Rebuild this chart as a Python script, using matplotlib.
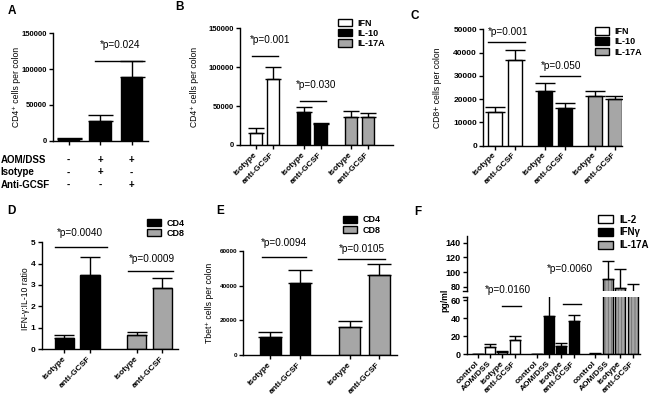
import numpy as np
import matplotlib.pyplot as plt
from matplotlib.patches import Patch
from matplotlib.transforms import blended_transform_factory

plt.rcParams['font.family'] = ['Liberation Sans', 'DejaVu Sans']
plt.rcParams['font.weight'] = 'bold'
plt.rcParams['hatch.linewidth'] = 0.6

# ---------------- data ----------------
# A: total CD4+ cells
a_vals = [2500, 28000, 89500]
a_sem = [800, 8000, 22000]
a_rows = ['AOM/DSS', 'Isotype', 'Anti-GCSF']
a_signs = [['-', '+', '+'], ['-', '+', '-'], ['-', '-', '+']]

pair_labels = ['isotype', 'anti-GCSF']
cyto3 = ['IFN', 'IL-10', 'IL-17A']

# B: CD4+ cells per colon by cytokine (isotype, anti-GCSF)
b_vals = [[15900, 84900], [42400, 26600], [35600, 36400]]
b_sem = [[5500, 15800], [6000, 2100], [8500, 4300]]

# C: CD8+ cells per colon by cytokine
c_vals = [[14500, 36800], [23600, 16000], [21500, 20200]]
c_sem = [[2200, 4500], [3200, 2200], [2100, 1300]]

# D: IFN-g:IL-10 ratio
cells = ['CD4', 'CD8']
d_vals = [[0.5, 3.49], [0.67, 2.84]]
d_sem = [[0.17, 0.83], [0.12, 0.49]]

# E: Tbet+ cells
e_vals = [[10200, 41350], [16350, 46150]]
e_sem = [[2900, 7650], [3450, 6150]]

# F: cytokines pg/ml
f_groups = ['IL-2', 'IFNγ', 'IL-17A']
f_labels = ['control', 'AOM/DSS', 'isotype', 'anti-GCSF']
f_vals = [[0.3, 8.4, 2.9, 15.8], [0.2, 42.7, 9.2, 36.8], [0.8, 90, 78.6, 72]]
f_sem = [[0.2, 3.0, 0.7, 4.8], [0.1, 23, 2.9, 6.6], [0.2, 25, 25, 12]]

fills3 = ['white', 'black', '#a6a6a6']
fills2 = ['black', '#a6a6a6']

# ---------------- helpers ----------------
W, H = 650, 399
fig = plt.figure(figsize=(W / 100, H / 100), dpi=100)


def px_axes(l, t, r, b, tsize=5.5):
    ax = fig.add_axes([l / W, 1 - b / H, (r - l) / W, (b - t) / H])
    ax.spines[['top', 'right']].set_visible(False)
    for s in ax.spines.values():
        s.set_linewidth(1)
    ax.tick_params(labelsize=tsize, width=1, length=3, pad=1.5)
    return ax


def draw_bars(ax, x, vals, sem, fc, w, cap, hatch=None):
    if hatch:
        ax.bar(x, vals, w, color=fc, edgecolor='#6e6e6e', lw=0, hatch=hatch, zorder=2)
        ax.bar(x, vals, w, fill=False, edgecolor='k', lw=1, zorder=2)
    else:
        ax.bar(x, vals, w, color=fc, edgecolor='k', lw=1, zorder=2)
    ax.errorbar(x, vals, yerr=[np.zeros(len(vals)), sem], fmt='none', ecolor='k',
                elinewidth=1, capsize=cap, capthick=1, zorder=3)


def sig(ax, x0, x1, y, text, tx, ty):
    ax.plot([x0, x1], [y, y], color='k', lw=1, clip_on=False)
    ax.text(tx, ty, text, ha='center', va='center', fontsize=7.2,
            weight='normal', clip_on=False, zorder=10)


def legend(labels, colors, left, top, fs=6.5, spacing=0.15):
    handles = [Patch(facecolor=c, edgecolor='k', lw=1) for c in colors]
    fig.legend(handles, labels, loc='upper left', bbox_to_anchor=(left / W, 1 - top / H),
               frameon=False, fontsize=fs, handlelength=1.55, handleheight=0.9,
               handletextpad=0.6, labelspacing=spacing, borderpad=0, borderaxespad=0)


def rot_labels(ax, x, labels, fs=6):
    ax.set_xticks(x)
    ax.set_xticklabels(labels, rotation=45, ha='right', va='center',
                       rotation_mode='anchor', fontsize=fs)
    ax.tick_params(axis='x', pad=3)


def panel(letter, x, y):
    fig.text(x / W, 1 - y / H, letter, fontsize=8.5, ha='center', va='center')


# ---------------- A ----------------
ax = px_axes(53.3, 33.3, 148.3, 140.7)
xa = np.arange(len(a_vals))
draw_bars(ax, xa, a_vals, a_sem, 'k', 0.68, 9)
ax.set_xlim(-0.49, 2.53)
ax.set_ylim(0, 150000)
ax.set_yticks([0, 50000, 100000, 150000])
ax.set_xticks(xa)
ax.set_xticklabels([])
ax.set_ylabel('CD4⁺ cells per colon', fontsize=6.2)
ax.yaxis.set_label_coords(-0.345, 0.5)
sig(ax, 0.85, 2.32, 111800, '*p=0.024', 1.65, 133700)
tr = blended_transform_factory(ax.transData, fig.transFigure)
for r, (lab, row) in enumerate(zip(a_rows, a_signs)):
    y = 1 - (160 + r * 12.5) / H
    fig.text(0.5 / W, y, lab, fontsize=7, va='center')
    for xi, s in zip(xa, row):
        ax.text(xi, y, s, transform=tr, fontsize=7, ha='center', va='center')
panel('A', 11.5, 11.5)

# ---------------- B ----------------
ax = px_axes(240, 28.3, 393, 145)
xb = []
for g in range(3):
    xg = g * 2.8 + np.arange(2)
    xb.extend(xg)
    draw_bars(ax, xg, b_vals[g], b_sem[g], fills3[g], 0.72, 6)
ax.set_xlim(-0.94, 8.06)
ax.set_ylim(0, 150000)
ax.set_yticks([0, 50000, 100000, 150000])
rot_labels(ax, xb, pair_labels * 3)
ax.set_ylabel('CD4⁺ cells per colon', fontsize=6.2)
ax.yaxis.set_label_coords(-0.27, 0.5)
sig(ax, -0.25, 1.31, 114400, '*p=0.001', 0.82, 135000)
sig(ax, 2.6, 4.13, 57000, '*p=0.030', 3.53, 77100)
legend(cyto3, fills3, 338, 18.5)
panel('B', 180, 7)

# ---------------- C ----------------
ax = px_axes(483.3, 29.3, 621.7, 145.7, tsize=6)
xc = []
for g in range(3):
    xg = g * 2.5 + np.arange(2)
    xc.extend(xg)
    draw_bars(ax, xg, c_vals[g], c_sem[g], fills3[g], 0.67, 7)
ax.set_xlim(-0.585, 6.34)
ax.set_ylim(0, 50000)
ax.set_yticks(np.arange(0, 50001, 10000))
rot_labels(ax, xc, pair_labels * 3)
ax.set_ylabel('CD8+ cells per colon', fontsize=6.2)
ax.yaxis.set_label_coords(-0.30, 0.5)
sig(ax, -0.33, 1.5, 44700, '*p=0.001', 0.65, 49000)
sig(ax, 2.25, 4.25, 29950, '*p=0.050', 3.33, 34200)
legend(cyto3, fills3, 595, 27)
panel('C', 415, 16)

# ---------------- D ----------------
ax = px_axes(41.7, 242.3, 178, 349, tsize=6)
xd = []
for g in range(2):
    xg = g * 2.84 + np.arange(2)
    xd.extend(xg)
    draw_bars(ax, xg, d_vals[g], d_sem[g], fills2[g], 0.75, 7)
ax.set_xlim(-0.89, 4.45)
ax.set_ylim(0, 5)
ax.set_yticks(range(6))
rot_labels(ax, xd, pair_labels * 2)
ax.set_ylabel('IFN-γ:IL-10 ratio', fontsize=6.2)
ax.yaxis.set_label_coords(-0.085, 0.47)
sig(ax, -0.37, 1.67, 4.76, '*p=0.0040', 0.61, 5.43)
sig(ax, 2.49, 4.24, 3.65, '*p=0.0009', 3.43, 4.2)
legend(cells, fills2, 147, 218.5)
panel('D', 11, 211)

# ---------------- E ----------------
ax = px_axes(243.3, 251, 396.7, 355, tsize=4.6)
xe = []
for g in range(2):
    xg = g * 2.67 + np.arange(2)
    xe.extend(xg)
    draw_bars(ax, xg, e_vals[g], e_sem[g], fills2[g], 0.7, 8.5)
ax.set_xlim(-0.91, 4.26)
ax.set_ylim(0, 60000)
ax.set_yticks([0, 20000, 40000, 60000])
rot_labels(ax, xe, pair_labels * 2)
ax.set_ylabel('Tbet⁺ cells per colon', fontsize=6.2)
ax.yaxis.set_label_coords(-0.188, 0.5)
sig(ax, -0.29, 1.2, 56350, '*p=0.0094', 0.46, 64800)
sig(ax, 2.27, 3.86, 55200, '*p=0.0105', 3.08, 61000)
legend(cells, fills2, 343, 215.5)
panel('E', 220, 211)

# ---------------- F (broken y axis) ----------------
axl = px_axes(467, 297, 640, 354.3, tsize=6.5)
axu = px_axes(467, 236, 640, 291, tsize=6.5)
axu.patch.set_visible(False)
xf = []
for g in range(3):
    xg = g * 4.75 + np.arange(4)
    xf.extend(xg)
    h = '|||||' if g == 2 else None
    for a in (axl, axu):
        draw_bars(a, xg, f_vals[g], f_sem[g], fills3[g], 0.8, 4.5, hatch=h)
for a in (axl, axu):
    a.set_xlim(-0.86, 13.09)
axl.set_ylim(0, 63.6)
axl.set_yticks([0, 20, 40, 60])
axu.set_ylim(74.1, 149.1)
axu.set_yticks([80, 100, 120, 140])
axu.spines['bottom'].set_visible(False)
axu.set_xticks([])
rot_labels(axl, xf, f_labels * 3, fs=6)
for a, yy in ((axu, 0), (axl, 1)):
    a.plot([-0.025, 0], [yy, yy], transform=a.transAxes, color='k', lw=1, clip_on=False)
sig(axl, 2.0, 3.46, 53.7, '*p=0.0160', 2.48, 71)
sig(axl, 6.88, 8.35, 56.3, '*p=0.0060', 7.42, 95)
fig.text(445 / W, 1 - 300 / H, 'pg/ml', rotation=90, fontsize=6.2, ha='center', va='center')
legend(f_groups, fills3, 598, 214.5, fs=7, spacing=0.3)
panel('F', 418, 212)

fig.savefig('out.png', dpi=100)
